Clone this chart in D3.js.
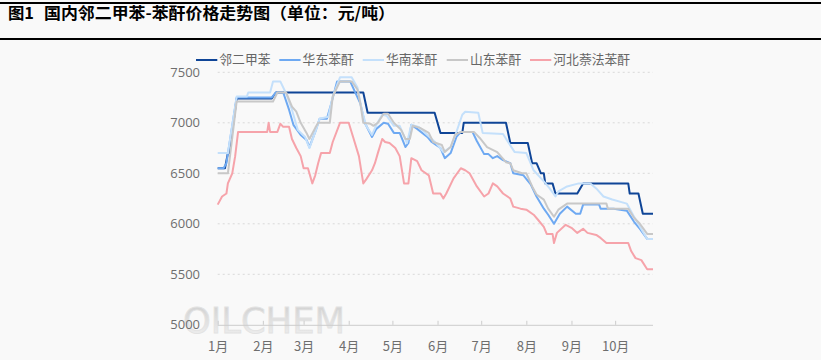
<!DOCTYPE html>
<html><head><meta charset="utf-8">
<script src="https://cdn.jsdelivr.net/npm/d3@7"></script>
<style>
html,body{margin:0;padding:0;background:#f9f9f9;}
svg{display:block;}
</style></head>
<body>
<svg id="c" width="821" height="360"></svg>
<script>
const titleNo = "图1";
const title = "国内邻二甲苯-苯酐价格走势图（单位：元/吨）";
const seriesNames = ["邻二甲苯","华东苯酐","华南苯酐","山东苯酐","河北萘法苯酐"];
const seriesColors = ["#0f4597","#6ea9f2","#c4e0fb","#c8c8c8","#f6a3aa"];
const yTicks = [5000,5500,6000,6500,7000,7500];
const monthTicks = ["2023-01-01","2023-02-01","2023-03-01","2023-04-01","2023-05-01","2023-06-01","2023-07-01","2023-08-01","2023-09-01","2023-10-01"];
const monthLabels = ["1月","2月","3月","4月","5月","6月","7月","8月","9月","10月"];
const xDomain = ["2023-01-01","2023-10-27"];

const oxDates = ["01-01","01-06","01-08","01-09","01-14","02-07","02-10","04-11","04-14","05-30","06-03","06-18","06-19","07-18","07-21","08-02","08-05","08-08","08-11","08-13","08-14","08-19","08-21","09-05","09-09","10-10","10-11","10-17","10-20","10-27"];
const oxValues = [6550,6550,6700,6700,7240,7240,7300,7300,7100,7100,6900,6900,7000,7000,6800,6800,6600,6600,6500,6500,6400,6400,6300,6300,6400,6400,6300,6300,6100,6100];

const eastDates = ["01-01","01-05","01-07","01-14","02-07","02-10","02-15","02-19","02-22","02-27","03-03","03-05","03-09","03-12","03-17","03-20","03-24","04-02","04-09","04-12","04-17","04-20","04-25","04-28","05-02","05-06","05-10","05-12","05-14","05-18","05-25","05-28","06-03","06-06","06-10","06-14","06-17","06-25","06-28","07-03","07-06","07-09","07-12","07-16","07-21","07-23","07-30","08-04","08-08","08-13","08-16","08-20","08-24","08-29","09-04","09-07","09-09","09-20","09-21","09-30","10-09","10-14","10-18","10-23","10-27"];
const eastValues = [6550,6550,6600,7250,7250,7300,7300,7130,6980,6880,6830,6760,6910,7040,7040,7190,7410,7410,7190,7000,6860,6940,7000,6990,6900,6900,6760,6800,6980,6940,6860,6810,6750,6650,6700,6860,6910,6910,6820,6690,6690,6650,6670,6630,6600,6500,6480,6390,6270,6150,6090,6000,6100,6170,6100,6100,6190,6190,6150,6150,6130,6020,5950,5850,5850];

const southDates = ["01-01","01-08","01-14","01-21","01-22","02-06","02-08","02-13","02-17","02-21","02-25","03-02","03-05","03-10","03-12","03-18","03-21","03-26","04-03","04-07","04-10","04-13","04-17","04-20","04-24","04-27","05-02","05-06","05-11","05-14","05-19","05-25","05-31","06-05","06-10","06-14","06-18","06-20","06-29","07-02","07-16","07-19","07-24","08-01","08-06","08-13","08-17","08-21","08-23","08-29","09-06","09-14","09-18","09-23","09-29","10-09","10-14","10-18","10-23","10-27"];
const southValues = [6700,6700,7260,7260,7300,7300,7410,7410,7290,7130,6930,6860,6750,6950,7040,7060,7260,7450,7450,7350,7130,6970,6880,6980,7080,7070,6970,6970,6800,6980,6960,6880,6800,6710,6760,6910,7080,7110,7100,6900,6890,6820,6710,6700,6530,6420,6350,6270,6320,6370,6400,6400,6350,6270,6240,6200,6070,5970,5850,5850];

const sdDates = ["01-01","01-08","01-14","02-08","02-11","02-17","02-21","02-24","02-27","03-03","03-05","03-09","03-11","03-19","03-21","03-26","04-03","04-07","04-09","04-11","04-16","04-18","04-21","04-25","04-28","05-02","05-07","05-10","05-13","05-15","05-20","05-26","05-29","06-04","06-06","06-10","06-13","06-17","06-26","06-30","07-05","07-12","07-18","07-21","07-23","07-29","08-01","08-05","08-08","08-13","08-16","08-20","08-23","08-29","09-25","09-26","10-10","10-14","10-18","10-23","10-27"];
const sdValues = [6500,6500,7210,7210,7300,7300,7160,7110,7000,6900,6840,6950,7000,7000,7260,7410,7410,7330,7190,7000,6990,6970,7000,7090,7090,7000,6930,6840,6840,6970,6950,6900,6810,6780,6710,6760,6880,6910,6910,6850,6760,6710,6610,6600,6530,6500,6500,6370,6290,6240,6150,6070,6140,6200,6200,6150,6150,6060,6000,5900,5900];

const hbDates = ["01-01","01-04","01-07","01-08","01-11","01-13","01-15","02-04","02-05","02-06","02-08","02-11","02-13","02-15","02-19","02-21","02-24","02-27","03-01","03-04","03-07","03-09","03-11","03-13","03-19","03-21","03-26","04-01","04-04","04-08","04-11","04-13","04-17","04-19","04-21","04-24","04-26","04-29","05-03","05-06","05-09","05-12","05-14","05-18","05-21","05-26","05-29","06-03","06-05","06-07","06-12","06-17","06-20","06-23","06-28","07-03","07-06","07-09","07-12","07-16","07-21","07-23","07-28","08-01","08-06","08-09","08-13","08-15","08-19","08-20","08-22","08-28","09-01","09-05","09-09","09-12","09-18","09-21","09-25","10-10","10-12","10-15","10-19","10-23","10-27"];
const hbValues = [6190,6270,6300,6400,6500,6670,6910,6910,7000,6910,6910,6910,6990,6960,6960,6840,6750,6670,6550,6550,6400,6480,6600,6700,6700,6810,7000,7000,6860,6670,6400,6440,6530,6600,6700,6840,6810,6800,6750,6670,6400,6400,6650,6620,6530,6480,6300,6300,6250,6300,6450,6550,6530,6500,6370,6270,6300,6400,6370,6300,6250,6170,6150,6140,6090,6040,5970,5900,5900,5810,5910,5990,5960,5910,5950,5910,5890,5860,5810,5810,5730,5660,5640,5550,5550];

const seriesDates = [oxDates, eastDates, southDates, sdDates, hbDates];
const seriesValues = [oxValues, eastValues, southValues, sdValues, hbValues];

const parse = d3.timeParse("%Y-%m-%d");
const svg = d3.select("#c");
const W = 821, H = 360;

// title + rules
svg.append("rect").attr("x",0).attr("y",2).attr("width",W).attr("height",2).attr("fill","#000");
svg.append("rect").attr("x",0).attr("y",38).attr("width",W).attr("height",2).attr("fill","#000");
const tFont = "'Noto Sans CJK SC','Noto Sans',sans-serif";
svg.append("text").attr("x",8).attr("y",19)
  .attr("font-family",tFont).attr("font-weight","bold").attr("font-size",16).attr("fill","#000")
  .attr("textLength",26).attr("lengthAdjust","spacingAndGlyphs")
  .text(titleNo);
svg.append("text").attr("x",44).attr("y",19)
  .attr("font-family",tFont).attr("font-weight","bold").attr("font-size",16).attr("fill","#000")
  .attr("textLength",351).attr("lengthAdjust","spacingAndGlyphs")
  .text(title);

const x = d3.scaleTime().domain(xDomain.map(parse)).range([217.7, 653]);
const y = d3.scaleLinear().domain([5000,7500]).range([324.8, 72.3]);

// watermark
const defs = svg.append("defs");
const grad = defs.append("linearGradient").attr("id","wm").attr("x1",0).attr("y1",0).attr("x2",0).attr("y2",1);
grad.append("stop").attr("offset","0%").attr("stop-color","#cdcdcd");
grad.append("stop").attr("offset","100%").attr("stop-color","#f3f3f3");
svg.append("text").attr("x",183).attr("y",333)
  .attr("font-family","'DejaVu Sans',sans-serif").attr("font-size",36)
  .attr("fill","url(#wm)").attr("stroke","#e2e2e2").attr("stroke-width",0.8)
  .attr("textLength",162).attr("lengthAdjust","spacingAndGlyphs")
  .text("OILCHEM");

// grid
const grid = svg.append("g");
grid.selectAll("line").data(yTicks.filter(v=>v>5000)).join("line")
  .attr("x1",217.7).attr("x2",653).attr("y1",d=>y(d)).attr("y2",d=>y(d))
  .attr("stroke","#d9d9d9").attr("stroke-width",1).attr("stroke-dasharray","2,3");

// y axis labels
const yAxis = d3.axisLeft(y).tickValues(yTicks).tickSize(0).tickPadding(0).tickFormat(d3.format("d"));
const gy = svg.append("g").attr("transform","translate(200,0)").call(yAxis);
gy.select(".domain").remove();
gy.selectAll("text").attr("font-family","'Open Sans','Noto Sans',sans-serif").attr("font-size",13).attr("fill","#6e6e6e");

// x axis
const xAxis = d3.axisBottom(x).tickValues(monthTicks.map(parse)).tickSize(-4).tickPadding(0)
  .tickFormat((d,i)=>monthLabels[i]);
const gx = svg.append("g").attr("transform",`translate(0,${y(5000)})`).call(xAxis);
gx.select(".domain").attr("stroke","#cccccc").attr("d","M217.7,0.5H653");
gx.selectAll(".tick line").attr("stroke","#cccccc");
gx.selectAll(".tick text").attr("y",22).attr("dy","0.35em")
  .attr("font-family",tFont).attr("font-size",13).attr("fill","#6e6e6e");

// lines
const line = d3.line().x(d=>x(d.date)).y(d=>y(d.value));
seriesNames.forEach((name,i)=>{
  const data = seriesDates[i].map((d,j)=>({date:parse("2023-"+d), value:seriesValues[i][j]}));
  svg.append("path").datum(data).attr("d",line)
    .attr("fill","none").attr("stroke",seriesColors[i]).attr("stroke-width",2)
    .attr("stroke-linejoin","round");
});

// legend
const legendX = [196, 279.3, 362.7, 446.7, 530];
const lg = svg.append("g");
seriesNames.forEach((name,i)=>{
  const g = lg.append("g").attr("transform",`translate(${legendX[i]},60)`);
  g.append("line").attr("x1",0).attr("x2",21.3).attr("y1",0).attr("y2",0)
    .attr("stroke",seriesColors[i]).attr("stroke-width",2);
  g.append("text").attr("x",23.3).attr("y",0).attr("dy","0.35em")
    .attr("font-family",tFont).attr("font-size",12.8).attr("fill","#666")
    .text(name);
});
</script>
</body></html>
